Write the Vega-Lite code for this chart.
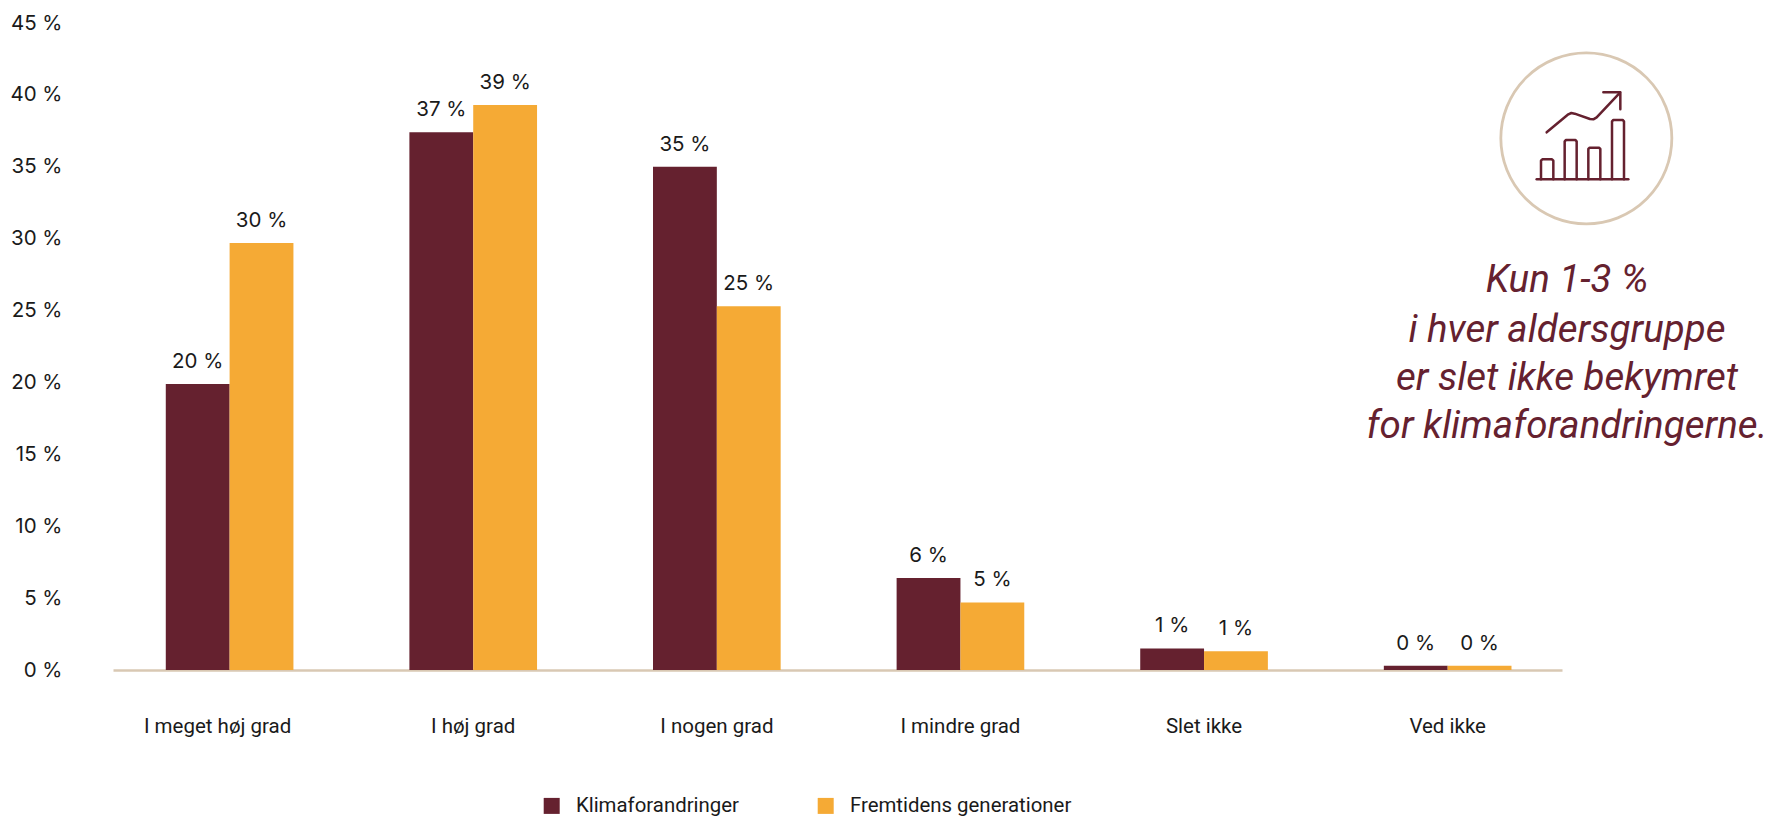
{"$schema":"https://vega.github.io/schema/vega-lite/v6.json","width":1658,"height":647,"autosize":{"type":"none"},"padding":{"left":113,"top":23,"right":0,"bottom":146},"background":"white","config":{"view":{"stroke":null},"font":"Roboto"},"datasets":{"bars":[{"cat":"I meget høj grad","serie":"Klimaforandringer","pct":19.9,"label":"20 %"},{"cat":"I meget høj grad","serie":"Fremtidens generationer","pct":29.7,"label":"30 %"},{"cat":"I høj grad","serie":"Klimaforandringer","pct":37.4,"label":"37 %"},{"cat":"I høj grad","serie":"Fremtidens generationer","pct":39.3,"label":"39 %"},{"cat":"I nogen grad","serie":"Klimaforandringer","pct":35,"label":"35 %"},{"cat":"I nogen grad","serie":"Fremtidens generationer","pct":25.3,"label":"25 %"},{"cat":"I mindre grad","serie":"Klimaforandringer","pct":6.4,"label":"6 %"},{"cat":"I mindre grad","serie":"Fremtidens generationer","pct":4.7,"label":"5 %"},{"cat":"Slet ikke","serie":"Klimaforandringer","pct":1.5,"label":"1 %"},{"cat":"Slet ikke","serie":"Fremtidens generationer","pct":1.3,"label":"1 %"},{"cat":"Ved ikke","serie":"Klimaforandringer","pct":0.3,"label":"0 %"},{"cat":"Ved ikke","serie":"Fremtidens generationer","pct":0.3,"label":"0 %"}],"icon":[{"p":"arrow","i":0,"u":440,"v":307},{"p":"arrow","i":1,"u":505,"v":253},{"p":"arrow","i":2,"u":514,"v":249},{"p":"arrow","i":3,"u":524,"v":251},{"p":"arrow","i":4,"u":570,"v":267},{"p":"arrow","i":5,"u":580,"v":268},{"p":"arrow","i":6,"u":590,"v":262},{"p":"arrow","i":7,"u":660,"v":188},{"p":"head","i":0,"u":610,"v":187},{"p":"head","i":1,"u":661,"v":187},{"p":"head","i":2,"u":661,"v":238},{"p":"b1","i":0,"u":423,"v":448},{"p":"b1","i":1,"u":423,"v":392},{"p":"b1","i":2,"u":427,"v":388},{"p":"b1","i":3,"u":456,"v":388},{"p":"b1","i":4,"u":460,"v":392},{"p":"b1","i":5,"u":460,"v":448},{"p":"b2","i":0,"u":494,"v":448},{"p":"b2","i":1,"u":494,"v":334},{"p":"b2","i":2,"u":498,"v":330},{"p":"b2","i":3,"u":526,"v":330},{"p":"b2","i":4,"u":530,"v":334},{"p":"b2","i":5,"u":530,"v":448},{"p":"b3","i":0,"u":565,"v":448},{"p":"b3","i":1,"u":565,"v":357},{"p":"b3","i":2,"u":569,"v":353},{"p":"b3","i":3,"u":597,"v":353},{"p":"b3","i":4,"u":601,"v":357},{"p":"b3","i":5,"u":601,"v":448},{"p":"b4","i":0,"u":636,"v":448},{"p":"b4","i":1,"u":636,"v":274},{"p":"b4","i":2,"u":640,"v":270},{"p":"b4","i":3,"u":668,"v":270},{"p":"b4","i":4,"u":672,"v":274},{"p":"b4","i":5,"u":672,"v":448},{"p":"base","i":0,"u":410,"v":448},{"p":"base","i":1,"u":685,"v":448}]},"resolve":{"scale":{"x":"independent","y":"independent"},"axis":{"x":"independent","y":"independent"}},"layer":[{"data":{"name":"bars"},"encoding":{"x":{"field":"cat","type":"nominal","sort":null,"scale":{"range":[0,1449],"paddingInner":0.476,"paddingOuter":0.212,"align":0.511},"axis":{"title":null,"labelAngle":0,"ticks":false,"domainColor":"#d9c8b3","domainWidth":2.5,"labelFont":"Roboto","labelFontSize":20.5,"labelColor":"#1a1a1a","labelPadding":56,"labelBaseline":"middle","labelLimit":300,"labelOffset":{"condition":{"test":"datum.value === 'I meget høj grad'","value":-12},"value":0}}},"xOffset":{"field":"serie","type":"nominal","sort":["Klimaforandringer","Fremtidens generationer"]},"y":{"field":"pct","type":"quantitative","scale":{"domain":[0,45]},"axis":{"title":null,"values":[0,5,10,15,20,25,30,35,40,45],"domain":false,"ticks":false,"grid":false,"labelExpr":"datum.value + ' %'","labelFont":"Inter","labelFontSize":20.5,"labelColor":"#1a1a1a","labelPadding":51}}},"layer":[{"mark":{"type":"bar"},"encoding":{"color":{"field":"serie","type":"nominal","sort":["Klimaforandringer","Fremtidens generationer"],"scale":{"domain":["Klimaforandringer","Fremtidens generationer"],"range":["#65212f","#f5aa35"]},"legend":{"title":null,"orient":"none","legendX":428.5,"legendY":772.5,"direction":"horizontal","columns":2,"symbolType":"square","symbolSize":256,"symbolStrokeWidth":0,"labelFont":"Roboto","labelFontSize":20.4,"labelColor":"#1a1a1a","labelOffset":14,"labelLimit":400,"columnPadding":76}}}},{"mark":{"type":"text","dy":-22,"fontSize":20.5,"font":"Inter","color":"#1a1a1a","baseline":"middle","align":"center"},"encoding":{"text":{"field":"label"}}}]},{"layer":[{"data":{"values":[{"u":559,"v":325}]},"mark":{"type":"point","shape":"circle","filled":false,"size":29241,"color":"#d9c8b3","strokeWidth":2.8,"opacity":1},"encoding":{"x":{"field":"u","type":"quantitative","scale":{"domain":[0,1113],"range":[1287,1658]},"axis":null},"y":{"field":"v","type":"quantitative","scale":{"domain":[0,1941],"range":[7,654]},"axis":null}}},{"data":{"name":"icon"},"mark":{"type":"line","color":"#65212f","strokeWidth":2.5,"strokeCap":"round","strokeJoin":"round"},"encoding":{"x":{"field":"u","type":"quantitative","scale":{"domain":[0,1113],"range":[1287,1658]},"axis":null},"y":{"field":"v","type":"quantitative","scale":{"domain":[0,1941],"range":[7,654]},"axis":null},"detail":{"field":"p"},"order":{"field":"i"}}},{"data":{"values":[{"t":"Kun 1-3 %","u":501,"v":750},{"t":"i hver aldersgruppe","u":501,"v":900},{"t":"er slet ikke bekymret","u":501,"v":1045},{"t":"for klimaforandringerne.","u":501,"v":1187}]},"mark":{"type":"text","font":"Roboto","fontStyle":"italic","fontSize":38.5,"color":"#65212f","align":"center","baseline":"middle"},"encoding":{"x":{"field":"u","type":"quantitative","scale":{"domain":[0,1113],"range":[1287,1658]},"axis":null},"y":{"field":"v","type":"quantitative","scale":{"domain":[0,1941],"range":[7,654]},"axis":null},"text":{"field":"t"}}}]}]}
